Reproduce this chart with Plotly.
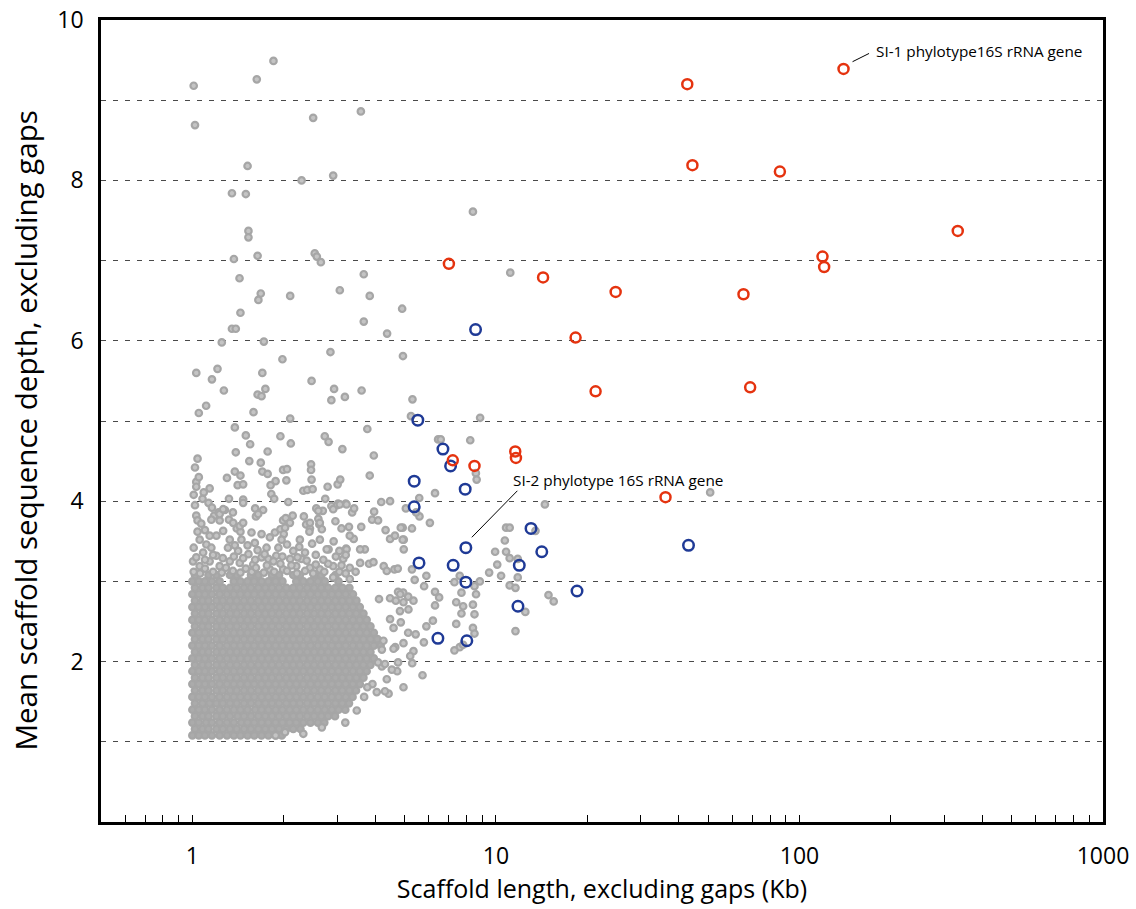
import numpy as np
import plotly.graph_objects as go

# ---------------- data ----------------
# Dense core of gray scaffolds: each row = (depth, [scaffold lengths in Kb])
gray_core_rows = [
    (1.08, [1.00, 1.05, 1.10, 1.16, 1.23, 1.30, 1.37, 1.44, 1.52, 1.60, 1.69, 1.78, 1.88, 1.97]),
    (1.16, [1.02, 1.08, 1.13, 1.20, 1.26, 1.33, 1.40, 1.48, 1.56, 1.65, 1.74, 1.83, 1.93, 2.04, 2.15, 2.27]),
    (1.24, [1.00, 1.05, 1.11, 1.16, 1.23, 1.30, 1.37, 1.45, 1.52, 1.60, 1.69, 1.78, 1.88, 1.98, 2.09, 2.20, 2.32, 2.45, 2.59, 2.72]),
    (1.32, [1.02, 1.08, 1.13, 1.20, 1.26, 1.33, 1.41, 1.48, 1.56, 1.65, 1.74, 1.83, 1.93, 2.04, 2.15, 2.26, 2.39, 2.52, 2.66, 2.80, 2.95]),
    (1.40, [1.00, 1.05, 1.10, 1.16, 1.23, 1.30, 1.37, 1.44, 1.52, 1.61, 1.69, 1.78, 1.88, 1.98, 2.09, 2.20, 2.32, 2.45, 2.59, 2.73, 2.88, 3.03, 3.19]),
    (1.48, [1.02, 1.08, 1.14, 1.20, 1.26, 1.33, 1.40, 1.48, 1.56, 1.65, 1.74, 1.83, 1.93, 2.04, 2.15, 2.26, 2.39, 2.52, 2.66, 2.80, 2.96, 3.12, 3.28]),
    (1.56, [1.00, 1.05, 1.10, 1.16, 1.23, 1.30, 1.37, 1.44, 1.52, 1.60, 1.69, 1.78, 1.88, 1.98, 2.09, 2.20, 2.32, 2.45, 2.59, 2.73, 2.88, 3.03, 3.20, 3.37]),
    (1.64, [1.02, 1.08, 1.13, 1.20, 1.26, 1.33, 1.40, 1.48, 1.56, 1.65, 1.74, 1.83, 1.93, 2.04, 2.15, 2.26, 2.39, 2.52, 2.66, 2.80, 2.96, 3.12, 3.29, 3.46]),
    (1.72, [1.00, 1.05, 1.10, 1.16, 1.23, 1.30, 1.37, 1.44, 1.52, 1.60, 1.69, 1.78, 1.88, 1.98, 2.09, 2.20, 2.32, 2.45, 2.59, 2.73, 2.88, 3.03, 3.20, 3.38, 3.56]),
    (1.80, [1.02, 1.08, 1.13, 1.20, 1.26, 1.33, 1.40, 1.48, 1.56, 1.65, 1.74, 1.83, 1.93, 2.04, 2.15, 2.26, 2.39, 2.52, 2.66, 2.80, 2.96, 3.12, 3.29, 3.47, 3.66]),
    (1.88, [1.00, 1.05, 1.10, 1.16, 1.23, 1.30, 1.37, 1.44, 1.52, 1.60, 1.69, 1.78, 1.88, 1.98, 2.09, 2.20, 2.32, 2.45, 2.59, 2.73, 2.88, 3.03, 3.20, 3.38, 3.56, 3.75]),
    (1.96, [1.02, 1.08, 1.13, 1.20, 1.26, 1.33, 1.40, 1.48, 1.56, 1.65, 1.74, 1.83, 1.93, 2.04, 2.15, 2.26, 2.39, 2.52, 2.66, 2.80, 2.96, 3.12, 3.29, 3.47, 3.66, 3.86]),
    (2.04, [1.00, 1.05, 1.10, 1.16, 1.23, 1.30, 1.37, 1.44, 1.52, 1.60, 1.69, 1.78, 1.88, 1.98, 2.09, 2.20, 2.32, 2.45, 2.59, 2.73, 2.88, 3.03, 3.20, 3.38, 3.56, 3.75, 3.96]),
    (2.12, [1.02, 1.08, 1.13, 1.20, 1.26, 1.33, 1.40, 1.48, 1.56, 1.65, 1.74, 1.83, 1.93, 2.04, 2.15, 2.26, 2.39, 2.52, 2.66, 2.80, 2.96, 3.12, 3.29, 3.47, 3.66, 3.86]),
    (2.20, [1.00, 1.05, 1.10, 1.16, 1.23, 1.30, 1.37, 1.44, 1.52, 1.60, 1.69, 1.78, 1.88, 1.98, 2.09, 2.20, 2.32, 2.45, 2.59, 2.73, 2.88, 3.03, 3.20, 3.38, 3.56, 3.75, 3.96, 4.17]),
    (2.28, [1.02, 1.08, 1.13, 1.20, 1.26, 1.33, 1.40, 1.48, 1.56, 1.65, 1.74, 1.83, 1.93, 2.04, 2.15, 2.26, 2.39, 2.52, 2.66, 2.80, 2.96, 3.12, 3.29, 3.47, 3.66, 3.86, 4.07]),
    (2.36, [1.00, 1.05, 1.10, 1.16, 1.23, 1.30, 1.37, 1.44, 1.52, 1.60, 1.69, 1.78, 1.88, 1.98, 2.09, 2.20, 2.32, 2.45, 2.59, 2.73, 2.88, 3.03, 3.20, 3.38, 3.56, 3.75, 3.96]),
    (2.44, [1.02, 1.08, 1.13, 1.20, 1.26, 1.33, 1.40, 1.48, 1.56, 1.65, 1.74, 1.83, 1.93, 2.04, 2.15, 2.26, 2.39, 2.52, 2.66, 2.80, 2.96, 3.12, 3.29, 3.47, 3.66, 3.86]),
    (2.52, [1.00, 1.05, 1.10, 1.16, 1.23, 1.30, 1.37, 1.44, 1.52, 1.60, 1.69, 1.78, 1.88, 1.98, 2.09, 2.20, 2.32, 2.45, 2.59, 2.73, 2.88, 3.03, 3.20, 3.38, 3.56, 3.75]),
    (2.60, [1.02, 1.08, 1.13, 1.20, 1.26, 1.33, 1.40, 1.48, 1.56, 1.65, 1.74, 1.83, 1.93, 2.04, 2.15, 2.26, 2.39, 2.52, 2.66, 2.80, 2.96, 3.12, 3.29, 3.47, 3.66]),
    (2.68, [1.00, 1.05, 1.10, 1.16, 1.23, 1.30, 1.37, 1.44, 1.52, 1.60, 1.69, 1.78, 1.88, 1.98, 2.09, 2.20, 2.32, 2.45, 2.59, 2.73, 2.88, 3.03, 3.20, 3.38, 3.56]),
    (2.76, [1.02, 1.08, 1.13, 1.20, 1.26, 1.33, 1.40, 1.48, 1.56, 1.65, 1.74, 1.83, 1.93, 2.04, 2.15, 2.26, 2.39, 2.52, 2.66, 2.80, 2.96, 3.12, 3.29, 3.47]),
    (2.84, [1.00, 1.05, 1.10, 1.16, 1.23, 1.30, 1.37, 1.44, 1.52, 1.60, 1.69, 1.78, 1.88, 1.98, 2.09, 2.20, 2.32, 2.45, 2.59, 2.73, 2.88, 3.03, 3.20, 3.38]),
    (2.92, [1.02, 1.08, 1.13, 1.20, 1.26, 1.33, 1.40, 1.48, 1.56, 1.65, 1.74, 1.83, 1.93, 2.04, 2.15, 2.26, 2.39, 2.52, 2.66, 2.80, 2.96, 3.12, 3.29]),
    (3.00, [1.00, 1.05, 1.10, 1.16, 1.23, 1.37, 1.44, 1.52, 1.60, 1.69, 1.78, 1.88, 1.98, 2.20, 2.32, 2.45, 2.59, 2.73, 3.03]),
    (3.08, [1.02, 1.13, 1.20, 1.33, 1.40, 1.56, 1.65, 1.83, 1.93, 2.15, 2.26, 2.52, 2.66, 2.96]),
]

# Scattered gray scaffolds outside the dense core: (length Kb, depth)
gray_scatter = [
    (1.01, 9.18), (1.02, 8.69), (1.63, 9.26), (1.85, 9.49), (2.50, 8.78), (3.59, 8.86),
    (1.52, 8.18), (2.29, 8.00), (2.91, 8.06), (1.35, 7.84), (1.50, 7.83), (1.53, 7.37),
    (1.53, 7.29), (1.37, 7.02), (1.64, 7.06), (2.53, 7.09), (2.57, 7.05), (2.65, 6.98),
    (1.43, 6.78), (3.67, 6.83), (3.06, 6.63), (3.84, 6.56), (1.68, 6.59), (2.10, 6.56),
    (1.65, 6.51), (1.44, 6.35), (1.35, 6.15), (1.39, 6.15), (4.91, 6.40), (3.67, 6.24),
    (4.38, 6.09), (1.25, 5.98), (1.72, 5.99), (2.85, 5.86), (4.94, 5.81), (1.98, 5.77),
    (1.03, 5.60), (1.21, 5.65), (1.16, 5.52), (1.70, 5.60), (1.27, 5.38), (2.47, 5.50),
    (2.93, 5.40), (2.87, 5.26), (3.18, 5.30), (3.61, 5.38), (1.74, 5.40), (1.64, 5.33),
    (1.69, 5.31), (1.11, 5.19), (1.05, 5.10), (1.59, 5.11), (2.10, 5.03), (5.31, 5.27),
    (5.25, 5.06), (8.87, 5.04), (1.38, 4.92), (1.50, 4.82), (1.55, 4.71), (1.95, 4.81),
    (2.11, 4.72), (2.73, 4.81), (2.81, 4.74), (3.77, 4.90), (1.39, 4.61), (1.77, 4.62),
    (3.12, 4.65), (3.96, 4.57), (1.04, 4.53), (1.54, 4.50), (1.68, 4.48), (2.46, 4.46),
    (2.46, 4.39), (6.45, 4.77), (6.58, 4.77), (8.23, 4.76), (3.84, 4.32), (1.70, 4.37),
    (1.77, 4.34), (1.38, 4.37), (1.44, 4.32), (1.30, 4.29), (1.41, 4.20), (1.47, 4.21),
    (1.99, 4.39), (2.05, 4.40), (2.04, 4.26), (1.88, 4.25), (1.81, 4.20), (2.47, 4.27),
    (1.03, 4.24), (1.03, 4.18), (1.14, 4.16), (1.09, 4.11), (1.08, 4.03), (1.13, 3.98),
    (1.32, 4.03), (1.47, 4.02), (1.47, 3.98), (1.82, 4.09), (1.86, 4.03), (2.07, 3.99),
    (2.32, 4.13), (2.39, 4.14), (2.49, 4.15), (2.79, 4.18), (3.01, 4.21), (3.07, 4.27),
    (2.74, 4.03), (4.19, 3.99), (4.48, 4.00), (5.59, 4.04), (6.30, 4.10), (14.5, 3.96),
    (8.59, 4.35), (8.64, 4.27), (3.02, 3.97), (3.20, 3.97), (50.8, 4.11), (8.40, 7.61),
    (11.15, 6.85),
    (5.05, 3.91), (5.60, 3.81), (5.29, 3.66), (6.06, 3.73), (4.93, 3.67), (4.97, 3.52),
    (4.97, 3.40), (10.8, 3.67), (11.1, 3.67), (13.5, 3.63), (10.7, 3.51), (9.94, 3.37),
    (10.8, 3.37), (11.1, 3.29), (10.1, 3.21), (11.8, 3.28), (9.5, 3.11), (10.4, 3.07),
    (11.8, 3.05), (8.85, 3.00), (8.5, 2.94), (7.6, 3.07), (7.3, 2.99), (5.9, 3.07),
    (5.4, 3.02), (5.8, 2.94), (6.3, 2.87), (6.5, 2.80), (5.14, 2.81), (5.35, 2.76),
    (4.95, 2.86), (11.1, 2.95), (11.6, 2.92), (14.9, 2.83), (15.5, 2.75), (7.7, 2.86),
    (8.6, 2.84), (7.4, 2.74), (7.8, 2.69), (8.4, 2.71), (6.3, 2.70), (7.7, 2.60),
    (8.5, 2.59), (6.2, 2.51), (5.9, 2.44), (7.4, 2.47), (8.4, 2.42), (8.5, 2.35),
    (5.44, 2.34), (5.14, 2.36), (5.79, 2.24), (11.6, 2.38), (12.5, 2.62),
    (3.82, 3.22), (3.95, 3.24), (4.27, 3.19), (4.37, 3.13), (4.63, 3.15), (4.75, 3.16),
    (5.29, 3.15), (4.48, 2.79), (4.68, 2.76), (4.76, 2.87), (4.84, 2.84), (4.96, 2.74),
    (7.6, 2.18), (7.8, 2.21), (7.3, 2.14), (5.35, 2.13), (5.22, 2.07), (5.30, 1.98),
    (5.73, 1.83), (4.96, 1.68), (4.86, 2.49), (4.96, 2.23), (4.66, 2.18), (4.73, 1.88),
    (4.54, 1.90), (4.37, 1.78), (4.43, 1.60), (4.31, 1.63), (4.05, 1.62), (3.92, 1.72),
    (3.77, 1.68), (3.68, 1.56), (3.48, 1.39), (3.19, 1.24), (2.67, 1.18), (2.32, 1.10),
    (2.02, 1.12), (1.88, 1.08),
    (4.12, 2.78), (4.48, 2.53), (4.60, 2.42), (4.60, 2.16), (4.76, 1.99), (4.21, 1.94),
    (4.09, 1.99), (4.26, 2.26), (4.21, 2.15), (4.83, 2.63), (5.15, 2.65), (4.31, 1.97),
    (1.16, 3.92), (1.03, 3.82), (1.04, 3.76), (1.07, 3.72), (1.18, 3.82), (1.22, 3.86),
    (1.28, 3.89), (1.36, 3.86), (1.23, 3.76), (1.32, 3.77), (1.40, 3.66), (1.44, 3.62),
    (1.61, 3.91), (1.71, 3.89), (1.62, 3.81), (1.99, 3.76), (2.03, 3.79), (2.14, 3.82),
    (2.33, 3.81), (2.37, 3.71), (2.56, 3.91), (2.69, 3.88), (2.87, 3.94), (3.00, 3.95),
    (3.36, 3.86), (3.41, 3.91), (2.96, 3.75), (2.60, 3.78), (2.62, 3.71), (2.44, 3.66),
    (3.10, 3.66), (3.28, 3.68), (3.60, 3.68), (3.97, 3.87), (3.91, 3.77), (4.09, 3.76),
    (4.33, 3.64), (4.86, 3.67), (5.46, 3.86), (4.48, 3.53), (4.65, 3.57), (4.93, 3.52),
    (1.87, 3.61), (1.95, 3.65), (2.00, 3.59), (2.43, 3.62), (2.63, 3.52), (2.81, 3.40),
    (3.21, 3.41), (3.40, 3.53), (3.70, 3.40),
    (1.155, 3.77), (1.23, 3.84), (1.263, 3.90), (1.363, 3.73), (1.433, 3.69), (1.47, 3.73),
    (1.647, 3.84), (2.02, 3.67), (2.096, 3.73), (2.44, 3.73), (2.60, 3.88), (2.63, 3.73),
    (2.67, 3.65), (2.91, 3.90), (3.06, 3.96), (3.22, 3.96), (3.30, 3.57), (1.057, 3.52),
    (1.112, 3.46), (1.155, 3.42), (1.20, 3.57), (1.263, 3.63), (1.328, 3.52), (1.451, 3.52),
    (1.566, 3.61), (1.69, 3.59), (1.606, 3.48), (1.755, 3.42), (1.967, 3.52), (1.92, 3.42),
    (2.26, 3.52), (2.77, 3.40), (2.35, 3.36), (2.15, 3.38), (2.29, 3.28), (2.10, 3.28),
    (1.89, 3.32), (1.69, 3.30), (1.53, 3.34), (1.415, 3.38), (1.31, 3.42), (1.20, 3.32),
    (1.085, 3.36), (1.005, 3.25), (1.057, 3.19), (1.14, 3.25), (1.23, 3.19), (1.328, 3.25),
    (1.433, 3.23), (1.586, 3.21), (1.78, 3.28), (1.80, 3.15), (1.99, 3.15), (2.20, 3.19),
    (2.44, 3.17), (2.63, 3.15), (2.91, 3.19), (3.14, 3.28), (3.30, 3.17), (3.57, 3.23),
    (3.22, 3.40), (3.57, 3.40), (2.91, 3.05), (3.30, 3.03),
    (1.01, 3.12), (1.06, 3.10), (1.10, 3.16), (1.17, 3.12), (1.25, 3.11), (1.29, 3.17),
    (1.36, 3.13), (1.44, 3.11), (1.50, 3.16), (1.57, 3.12), (1.62, 3.17), (1.72, 3.11),
    (1.76, 3.20), (1.86, 3.12), (1.95, 3.22), (2.05, 3.13), (2.12, 3.20), (2.21, 3.10),
    (2.35, 3.13), (2.50, 3.10), (2.55, 3.21), (2.72, 3.12), (2.80, 3.22), (3.05, 3.12),
    (3.20, 3.10), (3.10, 3.20), (3.45, 3.12),
    (1.03, 3.30), (1.10, 3.27), (1.17, 3.33), (1.26, 3.29), (1.37, 3.31), (1.47, 3.29),
    (1.61, 3.27), (1.73, 3.34), (1.85, 3.25), (1.98, 3.31), (2.22, 3.30), (2.38, 3.26),
    (2.55, 3.33), (2.70, 3.27), (2.97, 3.31), (3.20, 3.33),
    (1.01, 3.42), (1.04, 3.62), (1.02, 3.95), (1.01, 4.08), (1.05, 4.30), (1.02, 4.42),
    (1.10, 3.64), (1.14, 3.57), (1.38, 3.45), (1.52, 3.45), (1.64, 3.39), (1.80, 3.55),
    (2.05, 3.46), (2.25, 3.43), (2.48, 3.47), (2.92, 3.50), (3.05, 3.38),
]

# SI-2 phylotype scaffolds (blue open circles): length Kb, depth
blue_len = [8.57, 5.53, 6.69, 7.09, 5.38, 7.92, 5.38, 13.05, 7.96, 14.16,
            43.1, 5.58, 7.23, 11.94, 7.96, 18.5, 11.82, 6.44, 8.02]
blue_depth = [6.14, 5.01, 4.65, 4.44, 4.25, 4.15, 3.93, 3.66, 3.42, 3.37,
              3.45, 3.23, 3.20, 3.20, 2.99, 2.88, 2.69, 2.29, 2.26]

# SI-1 phylotype scaffolds (red open circles): length Kb, depth
red_len = [42.7, 139.7, 44.4, 86.2, 332.3, 7.00, 119.1, 120.6, 14.30, 24.8,
           65.4, 18.3, 21.3, 68.8, 7.21, 8.50, 11.58, 11.64, 36.2]
red_depth = [9.20, 9.39, 8.19, 8.11, 7.37, 6.96, 7.05, 6.92, 6.79, 6.61,
             6.58, 6.04, 5.37, 5.42, 4.51, 4.44, 4.62, 4.54, 4.05]

# axis ticks
x_major = [1, 10, 100, 1000]
x_minor = [0.6, 0.7, 0.8, 0.9, 2, 3, 4, 5, 6, 7, 8, 9, 20, 30, 40, 50, 60, 70, 80, 90,
           200, 300, 400, 500, 600, 700, 800, 900]
y_ticks = [1, 2, 3, 4, 5, 6, 7, 8, 9, 10]
y_labels = ["", "2", "", "4", "", "6", "", "8", "", "10"]

# ---------------- build figure ----------------
core_x = [x for y, xs in gray_core_rows for x in xs]
core_y = [y for y, xs in gray_core_rows for x in xs]
scat_x = [p[0] for p in gray_scatter]
scat_y = [p[1] for p in gray_scatter]

FONT = "Open Sans"

fig = go.Figure()
fig.add_trace(go.Scatter(
    x=core_x, y=core_y, mode="markers", hoverinfo="skip",
    marker=dict(size=6.5, color="#ababab", line=dict(color="#a6a6a6", width=2.2)),
))
fig.add_trace(go.Scatter(
    x=scat_x, y=scat_y, mode="markers", hoverinfo="skip",
    marker=dict(size=6.5, color="#c4c4c4", line=dict(color="#a6a6a6", width=2.2)),
))
fig.add_trace(go.Scatter(
    x=blue_len, y=blue_depth, mode="markers",
    marker=dict(symbol="circle-open", size=10.5, color="#1f3a96", line=dict(width=2.5)),
))
fig.add_trace(go.Scatter(
    x=red_len, y=red_depth, mode="markers",
    marker=dict(symbol="circle-open", size=10, color="#e5330f", line=dict(width=2.5)),
))

tickvals = sorted(x_major + x_minor)
ticktext = [str(v) if v in x_major else "" for v in tickvals]

fig.update_xaxes(
    type="log", range=[np.log10(0.5), 3], automargin=False,
    tickvals=tickvals, ticktext=ticktext,
    ticks="inside", ticklen=7, tickwidth=1, tickcolor="black",
    showline=True, linecolor="black", linewidth=2.5, mirror=True,
    showgrid=False, zeroline=False,
    tickfont=dict(family=FONT, size=23, color="black"),
    ticklabelstandoff=12,
    title=dict(text="Scaffold length, excluding gaps (Kb)",
               font=dict(family=FONT, size=25, color="black"), standoff=0),
)
fig.update_yaxes(
    range=[0, 10], tickvals=y_ticks, ticktext=y_labels, automargin=False,
    ticks="", showline=True, linecolor="black", linewidth=2.5, mirror=True,
    showgrid=True, gridcolor="#4a4a4a", gridwidth=1.1, griddash="5px,7px",
    zeroline=False,
    tickfont=dict(family=FONT, size=23, color="black"),
    ticklabelstandoff=10,
)

# y-axis title (placed as rotated text, centred a little below the plot middle)
fig.add_annotation(xref="paper", yref="paper", x=-0.0749, y=0.488,
                   text="Mean scaffold sequence depth, excluding gaps",
                   textangle=-90, showarrow=False, xanchor="center", yanchor="middle",
                   font=dict(family=FONT, size=29.5, color="black"))

ann_font = dict(family=FONT, size=15.3, color="black")
fig.add_annotation(x=np.log10(175.4), y=9.61, xref="x", yref="y",
                   text="SI-1 phylotype16S rRNA gene", showarrow=False,
                   xanchor="left", yanchor="middle", font=ann_font)
fig.add_annotation(x=np.log10(11.21), y=4.27, xref="x", yref="y",
                   text="SI-2 phylotype 16S rRNA gene", showarrow=False,
                   xanchor="left", yanchor="middle", font=ann_font)
# leader lines
fig.add_annotation(x=np.log10(149.6), y=9.48, xref="x", yref="y", text="",
                   showarrow=True, arrowhead=0, arrowwidth=1, arrowcolor="black",
                   ax=18, ay=-9, standoff=0, startstandoff=0)
fig.add_annotation(x=np.log10(8.33), y=3.55, xref="x", yref="y", text="",
                   showarrow=True, arrowhead=0, arrowwidth=1, arrowcolor="black",
                   ax=47, ay=-48, standoff=0, startstandoff=0)

fig.update_layout(
    width=1136, height=909, autosize=False,
    margin=dict(l=101, r=33, t=20, b=87),
    plot_bgcolor="white", paper_bgcolor="white",
    showlegend=False,
    font=dict(family=FONT, color="black"),
)

fig.write_html("out.html")
